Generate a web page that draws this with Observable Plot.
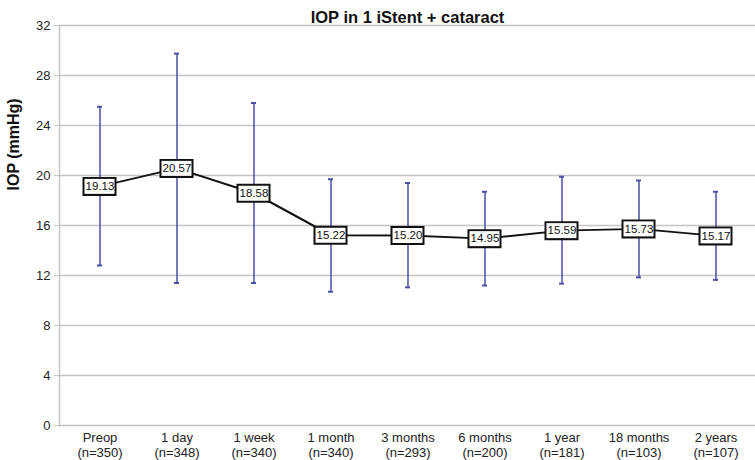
<!DOCTYPE html>
<html>
<head>
<meta charset="utf-8">
<script src="https://cdn.jsdelivr.net/npm/d3@7"></script>
<script src="https://cdn.jsdelivr.net/npm/@observablehq/plot@0.6"></script>
<style>
  html, body { margin: 0; padding: 0; background: #fff; }
  svg { display: block; }
</style>
</head>
<body>
<div id="chart"></div>
<script>
const categories = ["Preop", "1 day", "1 week", "1 month", "3 months", "6 months", "1 year", "18 months", "2 years"];
const nCounts = [350, 348, 340, 340, 293, 200, 181, 103, 107];
const means = [19.13, 20.57, 18.58, 15.22, 15.20, 14.95, 15.59, 15.73, 15.17];
const lower = [12.8, 11.4, 11.4, 10.7, 11.05, 11.2, 11.35, 11.85, 11.65];
const upper = [25.5, 29.75, 25.8, 19.7, 19.4, 18.7, 19.9, 19.6, 18.7];
const yTicks = [0, 4, 8, 12, 16, 20, 24, 28, 32];

const data = categories.map((c, i) => ({cat: c, n: nCounts[i], mean: means[i], lo: lower[i], hi: upper[i]}));
const tickLabel = new Map(categories.map((c, i) => [c, `${c}\n(n=${nCounts[i]})`]));

const font = "'Liberation Sans', Arial, sans-serif";
const errColor = "#4a4fa8";

const chart = Plot.plot({
  width: 755,
  height: 460,
  marginTop: 25,
  marginBottom: 35,
  marginLeft: 59,
  marginRight: 0,
  style: {fontFamily: font, fontSize: "13px", color: "#222", background: "#fff"},
  x: {type: "band", domain: categories, padding: 0},
  y: {domain: [0, 32]},
  marks: [
    Plot.gridY(yTicks, {stroke: "#c4c4c4", strokeOpacity: 1, strokeWidth: 1.5}),
    Plot.frame({anchor: "left", stroke: "#c4c4c4", strokeWidth: 1.5}),
    Plot.axisY(yTicks, {tickSize: 5, tickPadding: 4, stroke: "#c4c4c4", fontSize: 13, fill: "#222", label: null}),
    Plot.axisX({tickSize: 0, tickPadding: 5, fontSize: 13, fill: "#222", lineHeight: 1.2, tickFormat: (d) => tickLabel.get(d), label: null}),
    Plot.ruleX(data, {x: "cat", y1: "lo", y2: "hi", stroke: errColor, strokeWidth: 1.5}),
    Plot.tickY(data, {x: "cat", y: "hi", stroke: errColor, strokeWidth: 2, insetLeft: 36, insetRight: 36}),
    Plot.tickY(data, {x: "cat", y: "lo", stroke: errColor, strokeWidth: 2, insetLeft: 36, insetRight: 36}),
    Plot.line(data, {x: "cat", y: "mean", stroke: "#111", strokeWidth: 2}),
    Plot.tickY(data, {x: "cat", y: "mean", stroke: "#111", strokeWidth: 19, insetLeft: 21.5, insetRight: 21.5}),
    Plot.tickY(data, {x: "cat", y: "mean", stroke: "#fff", strokeWidth: 15, insetLeft: 23.5, insetRight: 23.5}),
    Plot.text(data, {x: "cat", y: "mean", text: (d) => d.mean.toFixed(2), fontSize: 11.5, fill: "#111"}),
    Plot.text(["IOP in 1 iStent + cataract"], {frameAnchor: "top", dy: -14, fontSize: 16.5, fontWeight: "bold", fill: "#111"}),
    Plot.text(["IOP (mmHg)"], {frameAnchor: "left", rotate: -90, dx: -46, dy: -35, fontSize: 16, fontWeight: "bold", fill: "#111"})
  ]
});
document.getElementById("chart").appendChild(chart);
</script>
</body>
</html>
